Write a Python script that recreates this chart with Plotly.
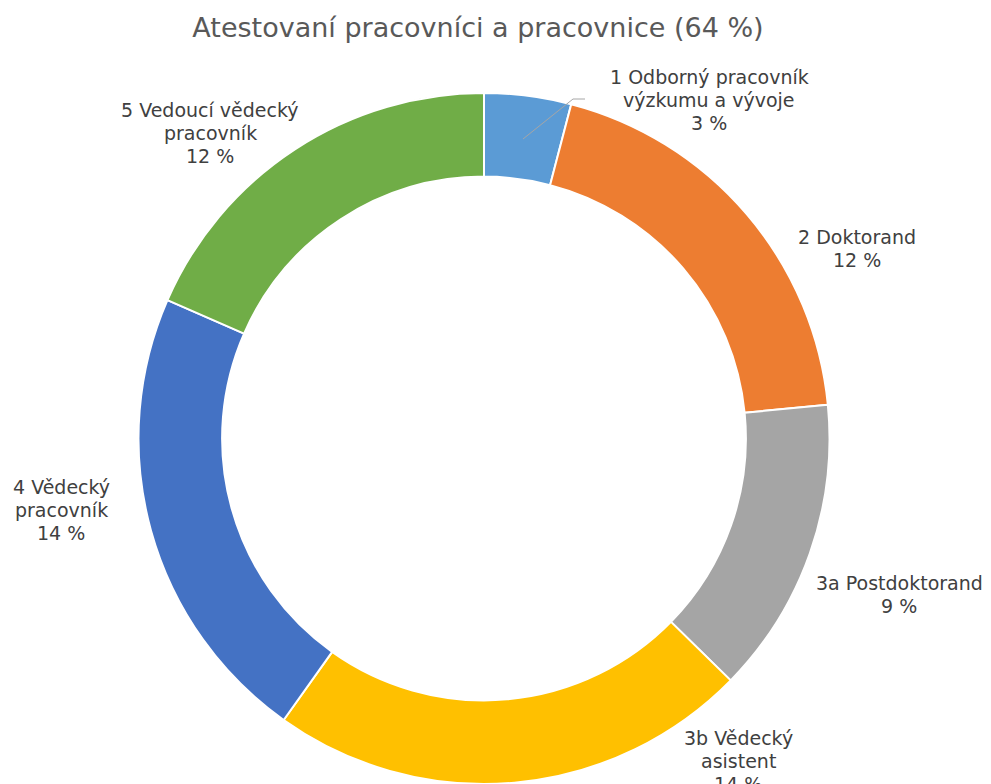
import plotly.graph_objects as go

# Data
categories = ["1 Odborný pracovník výzkumu a vývoje", "2 Doktorand", "3a Postdoktorand",
              "3b Vědecký asistent", "4 Vědecký pracovník", "5 Vedoucí vědecký pracovník"]
values = [2.6, 12.4, 8.9, 14.4, 13.9, 11.8]
label_lines = [["1 Odborný pracovník", "výzkumu a vývoje"],
               ["2 Doktorand"],
               ["3a Postdoktorand"],
               ["3b Vědecký", "asistent"],
               ["4 Vědecký", "pracovník"],
               ["5 Vedoucí vědecký", "pracovník"]]
colors = ["#5B9BD5", "#ED7D31", "#A5A5A5", "#FFC000", "#4472C4", "#70AD47"]
title_text = "Atestovaní pracovníci a pracovnice (64 %)"

W, H = 991, 784
OFF = 8  # page body margin
FONT = "DejaVu Sans"
LINE = 23.2

# label: centre x and first-line centre y, in page pixels
label_pos = [(709, 77), (857, 237), (899, 583), (738, 738), (61, 487), (210, 110)]


def px(x):
    return (x - OFF) / W


def py(y):
    return 1 - (y - OFF) / H


fig = go.Figure(go.Pie(
    labels=categories, values=values, sort=False, direction="clockwise", rotation=0,
    hole=0.758, textinfo="none", hoverinfo="label+percent",
    marker=dict(colors=colors, line=dict(color="white", width=2)),
    domain=dict(x=[px(138.5), px(829.5)], y=[py(784), py(93)]),
    showlegend=False,
))

for lines, v, (x, y) in zip(label_lines, values, label_pos):
    all_lines = lines + [f"{round(v)} %"]
    for i, t in enumerate(all_lines):
        fig.add_annotation(x=px(x), y=py(y + i * LINE), xref="paper", yref="paper",
                           text=t, showarrow=False, xanchor="center", yanchor="middle",
                           borderpad=0,
                           font=dict(family=FONT, size=19, color="#404040"))

# leader line for first label
pts = [(523, 139), (573, 99), (585, 99)]
path = "M " + " L ".join(f"{px(x)},{py(y)}" for x, y in pts)
fig.add_shape(type="path", path=path, xref="paper", yref="paper",
              line=dict(color="#A6A6A6", width=1))

fig.update_layout(
    width=W, height=H,
    margin=dict(l=0, r=0, t=0, b=0),
    paper_bgcolor="white", plot_bgcolor="white",
    title=dict(text=title_text, x=px(478), xanchor="center", y=py(28), yanchor="middle",
               font=dict(family=FONT, size=27, color="#595959")),
)

fig.write_html("out.html")
